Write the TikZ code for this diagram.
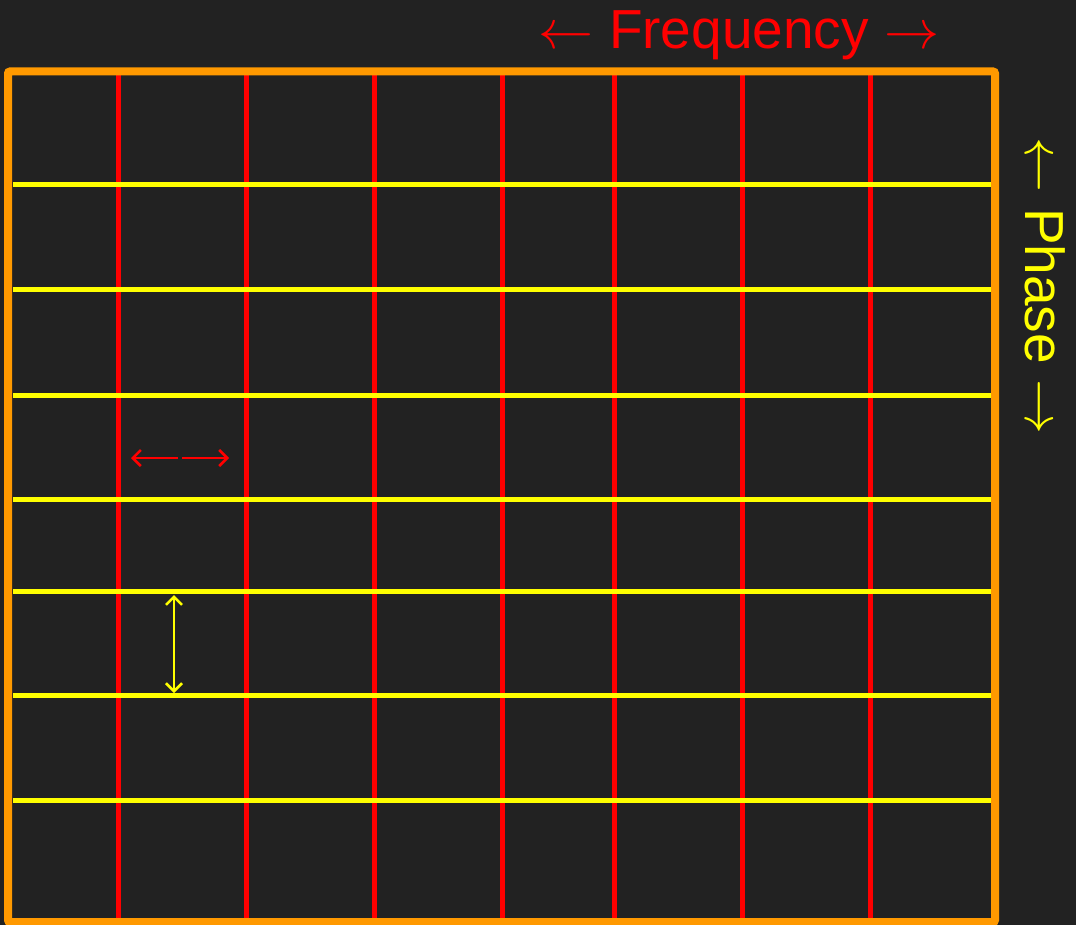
\documentclass[tikz,border=0pt]{standalone}
\usepackage{fontspec}
\setmainfont{Liberation Sans}
\usetikzlibrary{arrows.meta}
\definecolor{bg}{HTML}{222222}
\definecolor{frame}{HTML}{FF9900}
\definecolor{freq}{HTML}{FF0000}
\definecolor{phase}{HTML}{FFFF00}
\newcommand{\bigleft}{\scalebox{5.5}{\normalsize$\leftarrow$}}
\newcommand{\bigright}{\scalebox{5.5}{\normalsize$\rightarrow$}}
\tikzset{
  freqline/.style={freq, line width=5pt},
  phaseline/.style={phase, line width=5pt},
  framebox/.style={frame, line width=8pt, rounded corners=2pt},
  gaparrow/.style={line width=2.5pt, -{Straight Barb[length=8pt, width=16pt, line width=2.5pt]}},
  biglabel/.style={font=\fontsize{55}{60}\selectfont, inner sep=0pt, anchor=base},
}
\begin{document}
\begin{tikzpicture}[x=1pt, y=-1pt]
\fill[bg] (0,0) rectangle (1076,925);
\useasboundingbox (0,0) rectangle (1076,925);
% frequency (red) lines
\foreach \x in {118,246,374,502,614,742,870}
  \draw[freqline] (\x,75) -- (\x,918);
% phase (yellow) lines
\foreach \y in {185,290,395,499,591,695,800}
  \draw[phaseline] (13,\y) -- (991,\y);
% frame
\draw[framebox] (8,71.5) rectangle (995,922);
% spacing arrows
\coordinate (fa) at (180,458);
\coordinate (fl) at (131,458);
\coordinate (fr) at (229,458);
\draw[gaparrow, freq] ([xshift=-2pt]fa) -- (fl);
\draw[gaparrow, freq] ([xshift=2pt]fa) -- (fr);
\coordinate (pa) at (174,644);
\coordinate (pu) at (174,595);
\coordinate (pd) at (174,693);
\draw[gaparrow, phase] ([yshift=-2pt]pa) -- (pu);
\draw[gaparrow, phase] ([yshift=2pt]pa) -- (pd);
% labels
\node[biglabel, text=freq] (freqlabel) at (739,49) {\bigleft\ Frequency \bigright};
\node[biglabel, text=phase, rotate=-90] (phaselabel) at (1025,286) {\bigleft\ Phase \bigright};
\end{tikzpicture}
\end{document}
